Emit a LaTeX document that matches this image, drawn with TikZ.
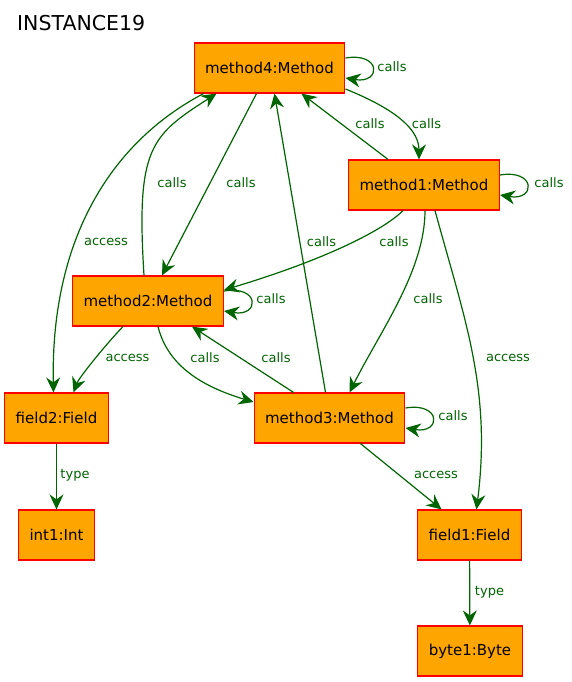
\documentclass[tikz,border=0pt]{standalone}
\usepackage{fontspec}
\setmainfont{DejaVu Sans}
\usetikzlibrary{arrows.meta}
\definecolor{objfill}{HTML}{FFA500}
\definecolor{relgreen}{HTML}{006400}

\begin{document}
\begin{tikzpicture}[x=1pt, y=-1pt,
                    obj/.style={rectangle, draw=red, fill=objfill, line width=1.2pt, minimum height=50pt, inner xsep=11pt, font=\fontsize{15}{18}\selectfont},
                    rel/.style={draw=relgreen, line width=1.2pt, -{Stealth[length=15pt,width=14pt,inset=5pt]}},
                    lbl/.style={text=relgreen, inner sep=0pt, font=\fontsize{13}{15}\selectfont}]
                    \useasboundingbox (0,0) rectangle (572,682);
                    \node[anchor=west, inner sep=0pt, font=\fontsize{20.5}{24}\selectfont] (title) at (17,23) {INSTANCE19};
                    \node[obj] (m4) at (269.5, 68) {method4:Method};
                    \node[obj] (m1) at (424, 185) {method1:Method};
                    \node[obj] (m2) at (148, 301) {method2:Method};
                    \node[obj] (f2) at (56.5, 418) {field2:Field};
                    \node[obj] (m3) at (329.5, 418) {method3:Method};
                    \node[obj] (i1) at (56.5, 535) {int1:Int};
                    \node[obj] (f1) at (469.5, 535) {field1:Field};
                    \node[obj] (b1) at (470, 651) {byte1:Byte};
                    % self calls
                    \draw[rel] ([yshift=10pt]m4.east) .. controls +(36,-6) and +(36,6) .. ([yshift=-10pt]m4.east);
                    \draw[rel] ([yshift=10pt]m1.east) .. controls +(36,-6) and +(36,6) .. ([yshift=-10pt]m1.east);
                    \draw[rel] ([yshift=10pt]m2.east) .. controls +(36,-6) and +(36,6) .. ([yshift=-10pt]m2.east);
                    \draw[rel] ([yshift=10pt]m3.east) .. controls +(36,-6) and +(36,6) .. ([yshift=-10pt]m3.east);
                    % calls
                    \draw[rel] ([yshift=-21pt]m4.east) .. controls +(37,15) and +(0,-35) .. ([xshift=-5pt]m1.north);
                    \draw[rel] ([xshift=-36pt]m1.north) -- ([xshift=32pt]m4.south);
                    \draw[rel] ([xshift=-13pt]m4.south) -- ([xshift=14pt]m2.north);
                    \draw[rel] ([xshift=-4pt]m2.north) .. controls +(-8,-127) and +(-66,42) .. ([xshift=-53pt]m4.south);
                    \draw[rel] ([xshift=-4pt]m3.north) -- ([xshift=5pt]m4.south);
                    \draw[rel] ([xshift=-21pt]m1.south) .. controls +(-20,20) and +(100,-30) .. ([yshift=11pt]m2.east);
                    \draw[rel] ([xshift=1pt]m1.south) .. controls +(0,60) and +(30,-60) .. ([xshift=20pt]m3.north);
                    \draw[rel] ([xshift=10pt]m2.south) .. controls +(10,40) and +(-50,-15) .. ([yshift=16pt]m3.west);
                    \draw[rel] ([xshift=-36pt]m3.north) -- ([xshift=44pt]m2.south);
                    % access
                    \draw[rel] ([xshift=-66pt]m4.south) .. controls +(-95,50) and +(-3,-150) .. ([xshift=-3pt]f2.north);
                    \draw[rel] ([xshift=11pt]m1.south) .. controls +(30,110) and +(15,-120) .. ([xshift=7pt]f1.north);
                    \draw[rel] ([xshift=-25pt]m2.south) .. controls +(-12,12) and +(6,-16) .. ([xshift=17pt]f2.north);
                    \draw[rel] ([xshift=31pt]m3.south) -- ([xshift=-28pt]f1.north);
                    % type
                    \draw[rel] (f2) -- (i1);
                    \draw[rel] (f1) -- (b1);
                    % labels
                    \node[lbl] (c44) at (392, 67) {calls};
                    \node[lbl] (c41) at (426.5, 124) {calls};
                    \node[lbl] (c14) at (370, 124) {calls};
                    \node[lbl] (c11) at (549, 183) {calls};
                    \node[lbl] (c24) at (172, 183) {calls};
                    \node[lbl] (c42) at (241, 183) {calls};
                    \node[lbl] (a4f2) at (106, 242) {access};
                    \node[lbl] (c34) at (321.5, 242) {calls};
                    \node[lbl] (c12) at (394, 242) {calls};
                    \node[lbl] (c22) at (271, 299) {calls};
                    \node[lbl] (c13) at (428, 299) {calls};
                    \node[lbl] (a2f2) at (127.5, 358) {access};
                    \node[lbl] (c23) at (205, 358) {calls};
                    \node[lbl] (c32) at (276, 358) {calls};
                    \node[lbl] (a1f1) at (508, 358) {access};
                    \node[lbl] (c33) at (453, 416) {calls};
                    \node[lbl] (tf2) at (75, 475) {type};
                    \node[lbl] (a3f1) at (436, 475) {access};
                    \node[lbl] (tf1) at (489.5, 592) {type};
                \end{tikzpicture}
\end{document}
